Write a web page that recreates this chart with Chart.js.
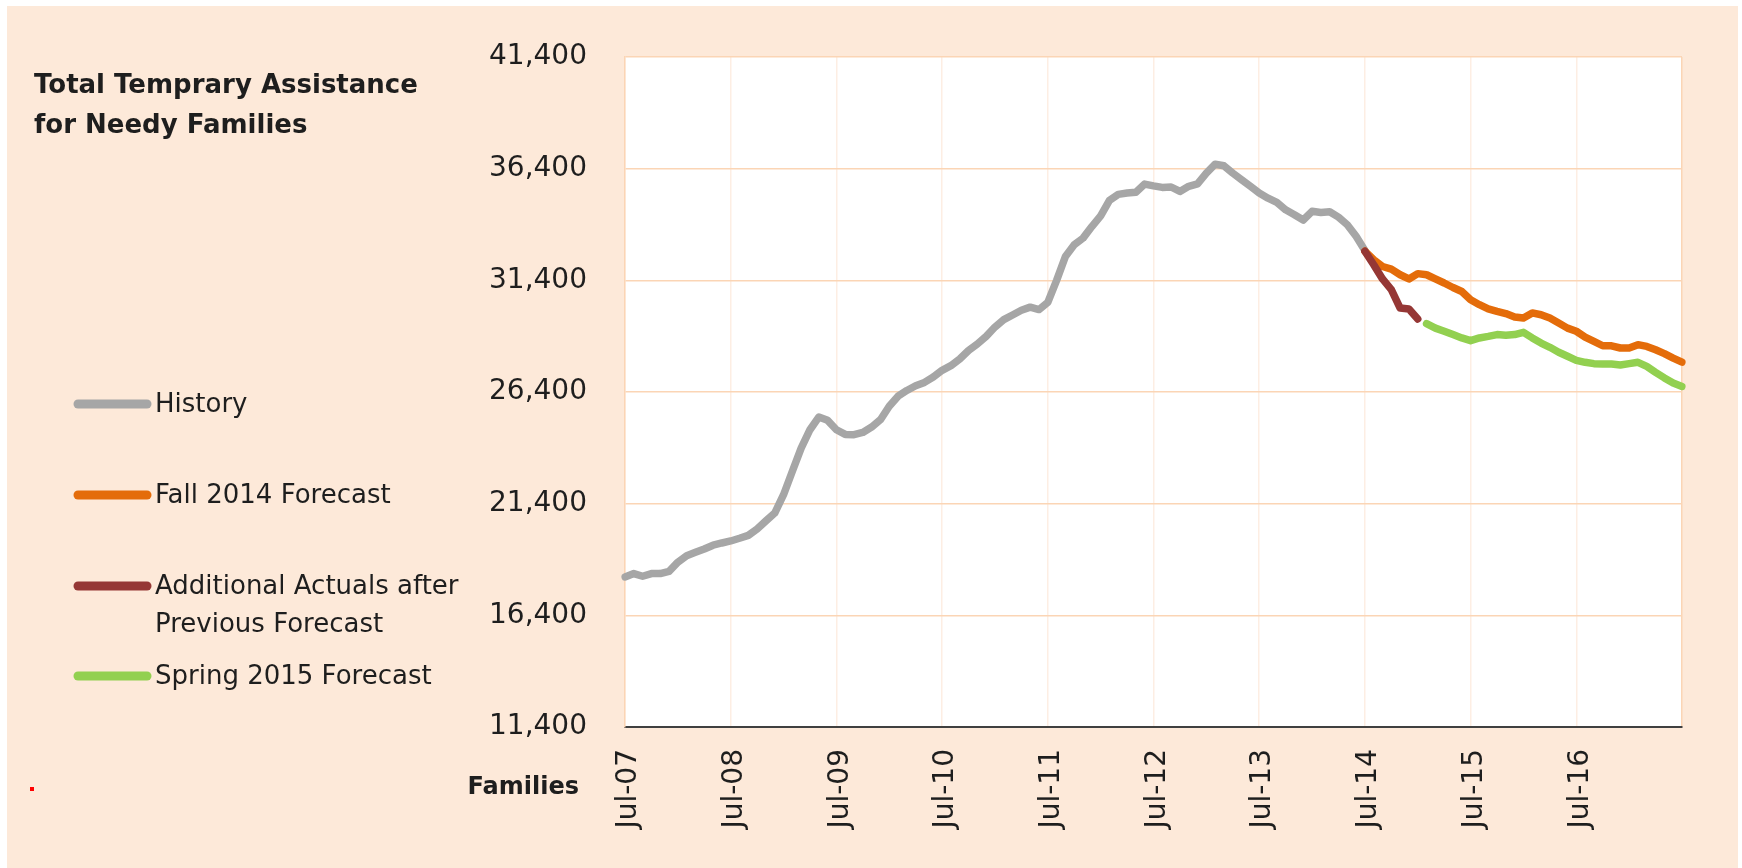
<!DOCTYPE html>
<html>
<head>
<meta charset="utf-8">
<script src="https://cdn.jsdelivr.net/npm/chart.js@4.4.0/dist/chart.umd.min.js"></script>
<style>
  html, body { margin: 0; padding: 0; background: #fff; }
  canvas { display: block; }
</style>
</head>
<body>
<canvas id="tanf" width="1742" height="868"></canvas>
<script>
// monthly categories, Jul-07 .. Jul-17
var monthNames = ['Jul','Aug','Sep','Oct','Nov','Dec','Jan','Feb','Mar','Apr','May','Jun'];
var months = [];
for (var i = 0; i <= 120; i++) {
  var yr = 7 + Math.floor((i + 6) / 12);
  months.push(monthNames[i % 12] + '-' + (yr < 10 ? '0' + yr : yr));
}
var tickLabels = ['Jul-07','Jul-08','Jul-09','Jul-10','Jul-11','Jul-12','Jul-13','Jul-14','Jul-15','Jul-16'];
var yTicks = [11400, 16400, 21400, 26400, 31400, 36400, 41400];

// series (first value sits at the start month index)
var historyStart = 0;
var historyValues = [
  18120, 18270, 18150, 18270, 18270, 18370, 18780, 19070, 19220, 19370, 19540, 19640,
  19730, 19850, 19980, 20270, 20630, 20980, 21800, 22850, 23890, 24710, 25280, 25130,
  24710, 24500, 24490, 24590, 24830, 25160, 25760, 26210, 26470, 26680, 26830, 27070,
  27370, 27580, 27880, 28260, 28550, 28890, 29310, 29640, 29850, 30060, 30200, 30090,
  30410, 31400, 32470, 32990, 33290, 33810, 34290, 34980, 35250, 35310, 35340, 35710,
  35630, 35560, 35580, 35380, 35610, 35720, 36200, 36600, 36530, 36200, 35900, 35610,
  35310, 35080, 34890, 34560, 34340, 34100, 34490, 34440, 34470, 34230, 33890, 33370,
  32740
];
var fallStart = 84;
var fallValues = [
  32700, 32320, 32020, 31900, 31650, 31460, 31700, 31650, 31460, 31280, 31080, 30900,
  30530, 30310, 30120, 30010, 29910, 29760, 29710, 29940, 29860, 29710, 29490, 29260,
  29120, 28860, 28670, 28470, 28470, 28370, 28370, 28520, 28440, 28290, 28120, 27920,
  27740
];
var additionalStart = 84;
var additionalValues = [32700, 32100, 31460, 30980, 30160, 30120, 29670];
var springStart = 91;
var springValues = [
  29460, 29260, 29120, 28970, 28820, 28700, 28820, 28890, 28970, 28940, 28970, 29070,
  28820, 28590, 28400, 28180, 28000, 27820, 27730, 27670, 27650, 27650, 27610, 27670,
  27730, 27550, 27280, 27030, 26800, 26650
];

function place(start, values) {
  var out = [];
  for (var i = 0; i < months.length; i++) {
    var k = i - start;
    out.push(k >= 0 && k < values.length ? values[k] : null);
  }
  return out;
}

var PEACH = '#FDE9D9';
var GRID = '#FBD5B5';
var VGRID = '#FDEEE3';
var TEXT = '#1e1e1e';

var series = [
  { label: 'History', color: '#A6A6A6', start: historyStart, values: historyValues, order: 3 },
  { label: 'Fall 2014 Forecast', color: '#E46C0A', start: fallStart, values: fallValues, order: 2 },
  { label: 'Additional Actuals after|Previous Forecast', color: '#953735', start: additionalStart, values: additionalValues, order: 1 },
  { label: 'Spring 2015 Forecast', color: '#92D050', start: springStart, values: springValues, order: 4 }
];

// background, plot area, title, legend
var decor = {
  id: 'decor',
  beforeDraw: function(chart) {
    var ctx = chart.ctx, a = chart.chartArea;
    ctx.save();
    ctx.fillStyle = '#ffffff';
    ctx.fillRect(0, 0, chart.width, chart.height);
    ctx.fillStyle = PEACH;
    ctx.fillRect(7, 6, 1731, 862);
    ctx.fillStyle = '#ffffff';
    ctx.fillRect(a.left, a.top, a.right - a.left, a.bottom - a.top);
    ctx.restore();
  },
  afterDraw: function(chart) {
    var ctx = chart.ctx;
    ctx.save();
    ctx.fillStyle = TEXT;
    ctx.textAlign = 'left';
    ctx.textBaseline = 'alphabetic';
    ctx.font = 'bold 26px "DejaVu Sans"';
    ctx.fillText('Total Temprary Assistance', 34, 93);
    ctx.fillText('for Needy Families', 34, 133);

    ctx.font = 'bold 24px "DejaVu Sans"';
    ctx.textAlign = 'right';
    ctx.fillText('Families', 579, 794);

    // legend
    var rows = [404, 495, 586, 676];
    ctx.font = '26px "DejaVu Sans"';
    ctx.textAlign = 'left';
    ctx.lineCap = 'round';
    series.forEach(function(s, i) {
      ctx.strokeStyle = s.color;
      ctx.lineWidth = 9;
      ctx.beginPath();
      ctx.moveTo(78, rows[i]);
      ctx.lineTo(147, rows[i]);
      ctx.stroke();
      s.label.split('|').forEach(function(t, j) {
        ctx.fillText(t, 155, rows[i] + 8 + j * 38);
      });
    });

    ctx.fillStyle = '#ff0000';
    ctx.fillRect(30, 787, 4, 4);
    ctx.restore();
  }
};

new Chart(document.getElementById('tanf'), {
  type: 'line',
  data: {
    labels: months,
    datasets: series.map(function(s) {
      return {
        label: s.label,
        data: place(s.start, s.values),
        borderColor: s.color,
        backgroundColor: s.color,
        borderWidth: 7.5,
        borderCapStyle: 'round',
        borderJoinStyle: 'round',
        pointRadius: 0,
        tension: 0,
        spanGaps: false,
        order: s.order
      };
    })
  },
  options: {
    responsive: false,
    animation: false,
    layout: { padding: { top: 57, right: 60, left: 0, bottom: 0 } },
    plugins: { legend: { display: false }, title: { display: false }, tooltip: { enabled: false } },
    scales: {
      x: {
        type: 'category',
        grid: {
          drawTicks: false,
          lineWidth: 1.5,
          color: function(c) {
            if (c.index === 120) return GRID;
            return c.index % 12 === 0 ? VGRID : 'rgba(0,0,0,0)';
          }
        },
        border: { color: '#404040', width: 2 },
        ticks: {
          autoSkip: false,
          minRotation: 90,
          maxRotation: 90,
          padding: 22,
          labelOffset: 4,
          color: TEXT,
          font: { family: '"DejaVu Sans"', size: 28 },
          callback: function(v, i) {
            return i % 12 === 0 && tickLabels[i / 12] ? tickLabels[i / 12] : '';
          }
        },
        afterFit: function(s) { s.height = 141; }
      },
      y: {
        min: 11400,
        max: 41400,
        grid: { drawTicks: false, lineWidth: 1.5, color: GRID },
        border: { color: GRID, width: 1.5 },
        ticks: {
          padding: 38,
          color: TEXT,
          font: { family: '"DejaVu Sans"', size: 28 },
          callback: function(v) { return v.toLocaleString('en-US'); }
        },
        afterBuildTicks: function(s) {
          s.ticks = yTicks.map(function(v) { return { value: v }; });
        },
        afterFit: function(s) { s.width = 625; }
      }
    }
  },
  plugins: [decor]
});
</script>
</body>
</html>
